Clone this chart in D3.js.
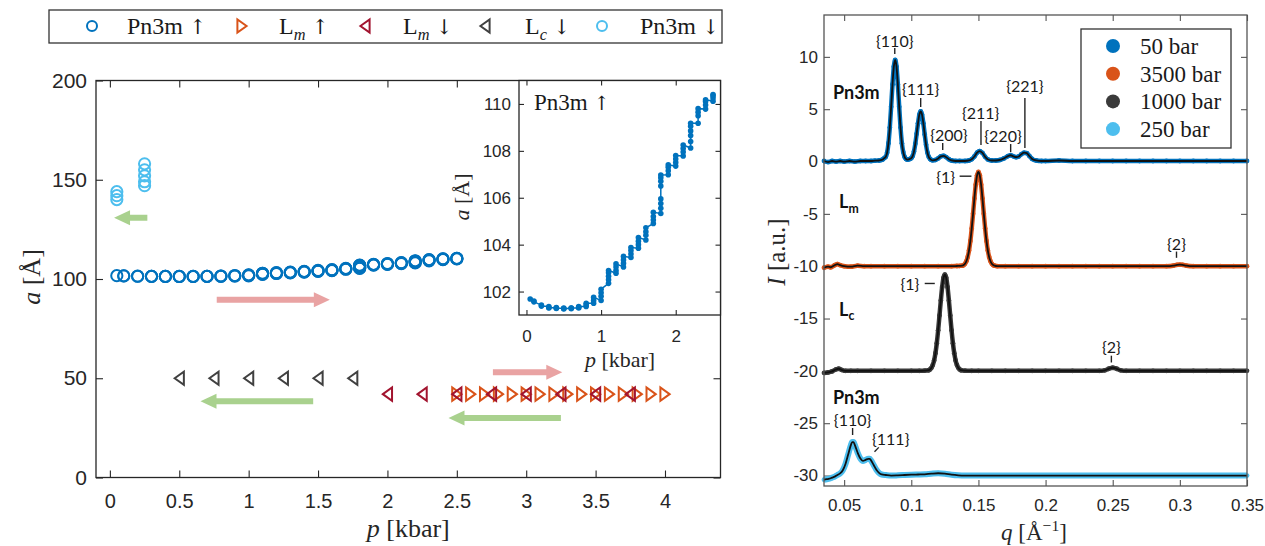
<!DOCTYPE html>
<html><head><meta charset="utf-8">
<script src="https://cdn.jsdelivr.net/npm/d3@7"></script>
<style>body{margin:0;background:#fff}svg{display:block}</style>
</head><body>
<svg id="fig" width="1265" height="546"></svg>
<script>
// ---------------- DATA (left panel) ----------------
const mainXTicks = [0,0.5,1,1.5,2,2.5,3,3.5,4];
const mainXTickLabels = ["0","0.5","1","1.5","2","2.5","3","3.5","4"];
const mainYTicks = [0,50,100,150,200];
const insetXTicks = [0,1,2];
const insetYTicks = [102,104,106,108,110];

// Pn3m ↑ : pressure steps and lattice parameters measured at each step (time order)
const pn3mUpP = [0.05,0.1,0.2,0.3,0.4,0.5,0.6,0.7,0.8,0.9,1.0,1.1,1.2,1.3,1.4,1.5,1.6,1.7,1.8,1.9,2.0,2.1,2.2,2.3,2.4,2.5];
const pn3mUpA = [
  [101.68],[101.6,101.56],[101.42,101.38],[101.36,101.32,101.3],[101.32,101.28,101.3],
  [101.28,101.3,101.26],[101.3,101.27,101.3],[101.3,101.33,101.36],[101.36,101.43,101.5],
  [101.5,101.62,101.75],[101.62,101.8,101.95,102.1],[102.35,102.5,102.65,102.8,102.9],
  [102.78,102.9,103.05,103.18],[103.05,103.2,103.35,103.5],[103.45,103.6,103.75,103.88],
  [103.85,104.0,104.15,104.3],[104.2,104.4,104.55,104.72],[104.9,105.05,105.2,105.38],
  [105.33,105.55,105.75,105.95,106.5,106.7,106.85,106.97],[106.98,107.15,107.3,107.4],
  [107.35,107.5,107.65,107.8],[107.78,107.95,108.1,108.25],
  [108.12,108.4,108.65,108.85,109.05,109.18],[109.18,109.5,109.65,109.8],
  [109.78,109.95,110.1,110.18],[110.12,110.25,110.35,110.4]
];
const pn3mDownP = [0.05,0.05,0.05,0.25,0.25,0.25,0.25,0.25];
const pn3mDownA = [144,142,140,158,155,152,149,147];
const lmUpP = [2.5,2.6,2.7,2.8,2.9,3.0,3.1,3.2,3.3,3.4,3.5,3.6,3.7,3.8,3.9,4.0];
const lmUpA = [42,42,42,42,42,42,42,42,42,42,42,42,42,42,42,42];
const lmDownP = [2.0,2.25,2.5,2.75,3.0,3.25,3.5,3.75];
const lmDownA = [42,42,42,42,42,42,42,42];
const lcDownP = [0.5,0.75,1.0,1.25,1.5,1.75];
const lcDownA = [50,50,50,50,50,50];
// direction arrows: [tail p, tip p, a]
const arrowsPink = [[0.77,1.585,89.6],[2.76,3.26,53]];
const arrowsGreen = [[0.27,0.03,130.8],[1.465,0.653,38.4],[3.25,2.44,30]];

// ---------------- DATA (right panel) ----------------
const qTicks = [0.05,0.1,0.15,0.2,0.25,0.3,0.35];
const qTickLabels = ["0.05","0.1","0.15","0.2","0.25","0.3","0.35"];
const iTicks = [-30,-25,-20,-15,-10,-5,0,5,10];
const iTickLabels = ["-30","-25","-20","-15","-10","-5","0","5","10"];
const seriesNames = ["50 bar","3500 bar","1000 bar","250 bar"];

const c50 = [[0.035,0.05],[0.038,-0.05],[0.041,0.05],[0.044,0.0],[0.047,0.05],[0.050,0.0],[0.054,0.05],[0.058,0.0],[0.062,0.05],[0.066,0.05],[0.070,0.05],[0.073,0.08],[0.076,0.1],[0.078,0.15],
[0.079,0.22],[0.080,0.34],[0.081,0.45],[0.082,0.85],[0.083,1.75],[0.084,3.24],[0.085,5.23],[0.086,7.37],[0.087,9.06],[0.088,9.7],[0.089,9.06],[0.090,7.37],[0.091,5.23],[0.092,3.24],[0.093,1.75],[0.094,0.9],[0.095,0.45],[0.096,0.25],[0.097,0.18],[0.098,0.2],[0.099,0.25],[0.100,0.32],[0.101,0.52],[0.102,0.95],[0.103,1.7],[0.104,2.65],[0.105,3.65],[0.106,4.48],[0.107,4.8],[0.108,4.48],[0.109,3.65],[0.110,2.59],[0.111,1.6],[0.112,0.86],[0.113,0.45],[0.114,0.25],[0.115,0.15],[0.116,0.12],[0.118,0.15],[0.120,0.3],[0.122,0.5],[0.124,0.55],[0.126,0.42],[0.128,0.22],[0.130,0.1],[0.133,0.05],[0.136,0.05],[0.140,0.05],[0.143,0.1],[0.145,0.22],[0.147,0.48],[0.149,0.85],[0.151,1.0],[0.153,0.82],[0.155,0.45],[0.157,0.2],[0.160,0.1],[0.163,0.1],[0.166,0.15],[0.169,0.3],[0.172,0.52],[0.174,0.6],[0.176,0.5],[0.178,0.42],[0.180,0.48],[0.182,0.7],[0.184,0.85],[0.186,0.8],[0.188,0.52],[0.190,0.25],[0.193,0.1],[0.197,0.05],[0.200,0.05],[0.21,0.1],[0.22,0.05],[0.23,0.05],[0.24,0.05],[0.25,0.05],[0.26,0.05],[0.27,0.05],[0.28,0.05],[0.29,0.05],[0.30,0.05],[0.31,0.05],[0.32,0.05],[0.33,0.05],[0.34,0.05],[0.35,0.05]];

const c3500 = [[0.035,-10.15],[0.038,-10.05],[0.040,-10.1],[0.043,-9.9],[0.045,-9.8],[0.047,-9.9],[0.050,-10.0],[0.055,-10.05],[0.060,-9.95],[0.065,-10.0],[0.070,-10.0],[0.080,-10.0],[0.090,-10.0],[0.100,-10.0],[0.110,-10.0],[0.120,-10.0],[0.130,-10.0],[0.134,-9.98],[0.136,-9.97],[0.138,-9.95],[0.139,-9.89],[0.140,-9.77],[0.141,-9.53],[0.142,-9.13],[0.143,-8.5],[0.144,-7.59],[0.145,-6.39],[0.146,-4.99],[0.147,-3.52],[0.148,-2.22],[0.149,-1.32],[0.150,-1.0],[0.151,-1.32],[0.152,-2.22],[0.153,-3.52],[0.154,-4.99],[0.155,-6.39],[0.156,-7.59],[0.157,-8.5],[0.158,-9.13],[0.159,-9.53],[0.160,-9.77],[0.161,-9.89],[0.162,-9.95],[0.164,-10.0],[0.17,-10.0],[0.18,-10.0],[0.19,-10.0],[0.20,-10.0],[0.21,-10.0],[0.22,-10.0],[0.23,-10.0],[0.24,-10.0],[0.25,-10.0],[0.26,-10.0],[0.27,-10.0],[0.28,-10.0],[0.29,-10.0],[0.295,-9.95],[0.298,-9.87],[0.300,-9.85],[0.302,-9.87],[0.305,-9.95],[0.31,-10.0],[0.32,-10.0],[0.33,-10.0],[0.34,-10.0],[0.35,-10.0]];

const c1000 = [[0.035,-20.2],[0.038,-20.15],[0.041,-20.05],[0.044,-19.85],[0.046,-19.8],[0.048,-19.9],[0.051,-20.0],[0.055,-20.0],[0.060,-20.0],[0.070,-20.0],[0.080,-20.0],[0.090,-20.0],[0.100,-20.0],[0.106,-20.0],[0.110,-19.98],[0.113,-19.94],[0.114,-19.86],[0.115,-19.71],[0.116,-19.44],[0.117,-19.0],[0.118,-18.31],[0.119,-17.35],[0.120,-16.13],[0.121,-14.71],[0.122,-13.27],[0.123,-11.99],[0.124,-11.11],[0.125,-10.8],[0.126,-11.11],[0.127,-11.99],[0.128,-13.27],[0.129,-14.71],[0.130,-16.13],[0.131,-17.35],[0.132,-18.31],[0.133,-19.0],[0.134,-19.44],[0.135,-19.71],[0.136,-19.86],[0.137,-19.94],[0.140,-19.98],[0.145,-20.0],[0.15,-20.0],[0.16,-20.0],[0.17,-20.0],[0.18,-20.0],[0.19,-20.0],[0.20,-20.0],[0.21,-20.0],[0.22,-20.0],[0.23,-20.0],[0.24,-20.0],[0.244,-19.95],[0.247,-19.8],[0.250,-19.7],[0.253,-19.8],[0.256,-19.95],[0.26,-20.0],[0.27,-20.0],[0.28,-20.0],[0.29,-20.0],[0.30,-20.0],[0.31,-20.0],[0.32,-20.0],[0.33,-20.0],[0.34,-20.0],[0.35,-20.0]];

const c250 = [[0.035,-30.4],[0.037,-30.35],[0.039,-30.3],[0.041,-30.2],[0.043,-30.1],[0.045,-29.95],[0.047,-29.8],[0.049,-29.5],[0.051,-28.9],[0.053,-28.0],[0.055,-27.1],[0.056,-26.8],[0.057,-26.8],[0.058,-27.1],[0.060,-27.8],[0.062,-28.35],[0.064,-28.6],[0.066,-28.5],[0.068,-28.4],[0.069,-28.4],[0.070,-28.55],[0.072,-29.0],[0.074,-29.45],[0.076,-29.75],[0.078,-29.9],[0.081,-29.95],[0.085,-30.0],[0.09,-29.98],[0.095,-29.95],[0.10,-29.92],[0.105,-29.9],[0.11,-29.88],[0.115,-29.82],[0.12,-29.78],[0.125,-29.82],[0.13,-29.92],[0.135,-29.98],[0.14,-30.0],[0.15,-30.0],[0.16,-30.0],[0.17,-30.0],[0.18,-30.0],[0.19,-30.0],[0.20,-30.0],[0.21,-30.0],[0.22,-30.0],[0.23,-30.0],[0.24,-30.0],[0.25,-30.0],[0.26,-30.0],[0.27,-30.0],[0.28,-30.0],[0.29,-30.0],[0.30,-30.0],[0.31,-30.0],[0.32,-30.0],[0.33,-30.0],[0.34,-30.0],[0.35,-30.0]];

// peak index labels [text, q, I] and their marker lines [q1, I1, q2, I2]
const peakLabels = [["{110}",0.0877,11.6],["{111}",0.107,6.93],["{200}",0.128,2.63],["{211}",0.1517,4.73],["{220}",0.1683,2.53],["{221}",0.1846,7.3],["{1}",0.1256,-1.45],["{2}",0.2975,-7.8],["{1}",0.099,-11.65],["{2}",0.249,-17.7],["{110}",0.0563,-24.6],["{111}",0.0847,-26.45]];
const peakLines = [[0.0877,10.84,0.0877,10.27],[0.107,6.07,0.107,5.21],[0.1234,1.77,0.1234,1.1],[0.1519,3.87,0.1519,1.58],[0.174,1.67,0.174,0.9],[0.1846,6.07,0.1846,1.29],[0.136,-1.4,0.1448,-1.4],[0.2975,-8.6,0.2975,-9.2],[0.110,-11.65,0.1175,-11.65],[0.249,-18.55,0.249,-19.2],[0.0563,-25.46,0.0563,-26.13],[0.0726,-27.73,0.0758,-27.31]];
const phaseLabels = [[["Pn3m"],0.0417,6.55],[["L","m"],0.0462,-3.87],[["L","c"],0.0462,-14.18],[["Pn3m"],0.0417,-22.56]];

// ---------------- STYLE ----------------
const C = {blue:"#0072BD", orange:"#D95319", red:"#A2142F", gray:"#404040", lblue:"#4DBEEE", pink:"#E9A3A3", green:"#A9D18E"};
const SANS = "'Liberation Sans', Arial, sans-serif";
const SERIF = "'Liberation Serif', 'Times New Roman', serif";
const CAL = "Lato, 'Open Sans', sans-serif";
const ARW = "'DejaVu Serif', 'DejaVu Sans', serif";

const svg = d3.select("#fig");

function rich(textSel, parts, size) {
  let shift = 0;
  parts.forEach(p => {
    const ts = textSel.append("tspan").text(p.t);
    let target = 0;
    if (p.sub) { target = size * 0.25; ts.attr("font-size", size * 0.68); }
    if (p.sup) { target = -size * 0.4; ts.attr("font-size", size * 0.68); }
    if (p.i) ts.attr("font-style", "italic");
    if (p.arrow) ts.style("font-family", ARW).attr("font-size", size * 0.85).attr("font-weight", "normal");
    if (target !== shift) { ts.attr("dy", target - shift); shift = target; }
  });
}
function styleAxis(g, col, size, fam) {
  g.select(".domain").remove();
  g.selectAll(".tick line").attr("stroke", col).attr("stroke-width", 1.1);
  g.selectAll(".tick text").attr("fill", "#262626").style("font-size", size + "px").style("font-family", fam);
}
const triLeft = "M-4.6,0L4.6,-6.6L4.6,6.6Z";
const triRight = "M4.6,0L-4.6,-6.6L-4.6,6.6Z";

// ================= LEFT MAIN PLOT =================
const mx = d3.scaleLinear().domain([-0.1, 4.4]).range([96, 720.5]);
const my = d3.scaleLinear().domain([0, 200]).range([477.5, 80.5]);
const L = svg.append("g");

const gx = L.append("g").attr("transform", `translate(0,${my(0)})`)
  .call(d3.axisBottom(mx).tickValues(mainXTicks).tickFormat((d,i)=>mainXTickLabels[i]).tickSizeInner(-7).tickSizeOuter(0).tickPadding(16));
styleAxis(gx, "#262626", 20, SANS);
const gxt = L.append("g").attr("transform", `translate(0,${my(200)})`)
  .call(d3.axisTop(mx).tickValues(mainXTicks).tickFormat("").tickSizeInner(-7).tickSizeOuter(0));
styleAxis(gxt, "#262626", 20, SANS);
const gy = L.append("g").attr("transform", `translate(${mx(-0.1)},0)`)
  .call(d3.axisLeft(my).tickValues(mainYTicks).tickFormat(d3.format("d")).tickSizeInner(-7).tickSizeOuter(0).tickPadding(9));
styleAxis(gy, "#262626", 21, SANS);
const gyr = L.append("g").attr("transform", `translate(${mx(4.4)},0)`)
  .call(d3.axisRight(my).tickValues(mainYTicks).tickFormat("").tickSizeInner(-7).tickSizeOuter(0));
styleAxis(gyr, "#262626", 21, SANS);
L.append("rect").attr("x", mx(-0.1)).attr("y", my(200)).attr("width", mx(4.4) - mx(-0.1)).attr("height", my(0) - my(200))
  .attr("fill", "none").attr("stroke", "#262626").attr("stroke-width", 1.3);

// arrows
function arrow(g, x1, x2, y, col) {
  const dir = x2 > x1 ? 1 : -1, hl = 16, hh = 7.5, bt = 3;
  const xb = x2 - dir * hl;
  g.append("path").attr("fill", col)
    .attr("d", `M${x1},${y-bt}L${xb},${y-bt}L${xb},${y-hh}L${x2},${y}L${xb},${y+hh}L${xb},${y+bt}L${x1},${y+bt}Z`);
}
arrowsPink.forEach(a => arrow(L, mx(a[0]), mx(a[1]), my(a[2]), C.pink));
arrowsGreen.forEach(a => arrow(L, mx(a[0]), mx(a[1]), my(a[2]), C.green));

// markers
const pn3mUpFlat = [];
pn3mUpP.forEach((p, i) => pn3mUpA[i].forEach(a => pn3mUpFlat.push([p, a])));
L.append("g").selectAll("circle").data(pn3mUpFlat).join("circle")
  .attr("cx", d => mx(d[0])).attr("cy", d => my(d[1])).attr("r", 5.6)
  .attr("fill", "none").attr("stroke", C.blue).attr("stroke-width", 2);
L.append("g").selectAll("circle").data(pn3mDownP.map((p,i)=>[p,pn3mDownA[i]])).join("circle")
  .attr("cx", d => mx(d[0])).attr("cy", d => my(d[1])).attr("r", 5.6)
  .attr("fill", "none").attr("stroke", C.lblue).attr("stroke-width", 2);
function tris(data, path, col) {
  L.append("g").selectAll("path").data(data).join("path")
    .attr("transform", d => `translate(${mx(d[0])},${my(d[1])})`).attr("d", path)
    .attr("fill", "none").attr("stroke", col).attr("stroke-width", 2).attr("stroke-linejoin", "miter");
}
tris(lcDownP.map((p,i)=>[p,lcDownA[i]]), triLeft, C.gray);
tris(lmUpP.map((p,i)=>[p,lmUpA[i]]), triRight, C.orange);
tris(lmDownP.map((p,i)=>[p,lmDownA[i]]), triLeft, C.red);

// axis labels
const xl = L.append("text").attr("x", (mx(-0.1)+mx(4.4))/2).attr("y", 537).attr("text-anchor", "middle")
  .style("font-family", SERIF).style("font-size", "26px").attr("fill", "#262626");
rich(xl, [{t:"p", i:true}, {t:" [kbar]"}], 26);
const yl = L.append("text").attr("transform", "translate(31,277) rotate(-90)").attr("text-anchor", "middle")
  .attr("dominant-baseline", "central").style("font-family", SERIF).style("font-size", "26px").attr("fill", "#262626");
rich(yl, [{t:"a", i:true}, {t:" [Å]"}], 26);

// ---- inset ----
const ix = d3.scaleLinear().domain([-0.1, 2.6]).range([519, 720.5]);
const iy = d3.scaleLinear().domain([101, 111]).range([315, 80.5]);
const I = svg.append("g");
I.append("rect").attr("x", ix(-0.1)).attr("y", iy(111)).attr("width", ix(2.6)-ix(-0.1)).attr("height", iy(101)-iy(111)).attr("fill", "#fff");
const ixa = I.append("g").attr("transform", `translate(0,${iy(101)})`)
  .call(d3.axisBottom(ix).tickValues(insetXTicks).tickFormat(d3.format("d")).tickSizeInner(-5).tickSizeOuter(0).tickPadding(15));
styleAxis(ixa, "#262626", 17, SANS);
const ixt = I.append("g").attr("transform", `translate(0,${iy(111)})`)
  .call(d3.axisTop(ix).tickValues(insetXTicks).tickFormat("").tickSizeInner(-5).tickSizeOuter(0));
styleAxis(ixt, "#262626", 17, SANS);
const iya = I.append("g").attr("transform", `translate(${ix(-0.1)},0)`)
  .call(d3.axisLeft(iy).tickValues(insetYTicks).tickFormat(d3.format("d")).tickSizeInner(-5).tickSizeOuter(0).tickPadding(8));
styleAxis(iya, "#262626", 17, SANS);
const iyr = I.append("g").attr("transform", `translate(${ix(2.6)},0)`)
  .call(d3.axisRight(iy).tickValues(insetYTicks).tickFormat("").tickSizeInner(-5).tickSizeOuter(0));
styleAxis(iyr, "#262626", 17, SANS);
I.append("path").datum(pn3mUpFlat).attr("fill", "none").attr("stroke", C.blue).attr("stroke-width", 1.5)
  .attr("d", d3.line().x(d => ix(d[0])).y(d => iy(d[1])));
I.append("g").selectAll("circle").data(pn3mUpFlat).join("circle")
  .attr("cx", d => ix(d[0])).attr("cy", d => iy(d[1])).attr("r", 2.8).attr("fill", C.blue);
I.append("rect").attr("x", ix(-0.1)).attr("y", iy(111)).attr("width", ix(2.6)-ix(-0.1)).attr("height", iy(101)-iy(111))
  .attr("fill", "none").attr("stroke", "#262626").attr("stroke-width", 1.3);
const itl = I.append("text").attr("x", 534).attr("y", 110).style("font-family", SERIF).style("font-size", "23px").attr("fill", "#1a1a1a");
rich(itl, [{t:"Pn3m "}, {t:"↑", arrow:true}], 23);
const ixl = I.append("text").attr("x", 620).attr("y", 367).attr("text-anchor", "middle").style("font-family", SERIF).style("font-size", "22px").attr("fill", "#262626");
rich(ixl, [{t:"p", i:true}, {t:" [kbar]"}], 22);
const iyl = I.append("text").attr("transform", "translate(461,197) rotate(-90)").attr("text-anchor", "middle")
  .attr("dominant-baseline", "central").style("font-family", SERIF).style("font-size", "22px").attr("fill", "#262626");
rich(iyl, [{t:"a", i:true}, {t:" [Å]"}], 22);

// ---- top legend ----
const LG = svg.append("g");
LG.append("rect").attr("x", 49).attr("y", 10).attr("width", 673).attr("height", 33).attr("fill", "#fff").attr("stroke", "#333").attr("stroke-width", 1.3);
const legItems = [
  {sym:"c", col:C.blue, x:92, tx:127, parts:[{t:"Pn3m "},{t:"↑",arrow:true}]},
  {sym:"r", col:C.orange, x:242, tx:279, parts:[{t:"L"},{t:"m",sub:true,i:true},{t:" "},{t:"↑",arrow:true}]},
  {sym:"l", col:C.red, x:365, tx:403, parts:[{t:"L"},{t:"m",sub:true,i:true},{t:" "},{t:"↓",arrow:true}]},
  {sym:"l", col:C.gray, x:485, tx:525, parts:[{t:"L"},{t:"c",sub:true,i:true},{t:" "},{t:"↓",arrow:true}]},
  {sym:"c", col:C.lblue, x:602, tx:640, parts:[{t:"Pn3m "},{t:"↓",arrow:true}]}
];
legItems.forEach(it => {
  if (it.sym === "c") LG.append("circle").attr("cx", it.x).attr("cy", 26).attr("r", 5).attr("fill", "none").attr("stroke", it.col).attr("stroke-width", 2);
  else LG.append("path").attr("transform", `translate(${it.x},26)`).attr("d", it.sym === "r" ? triRight : triLeft).attr("fill", "none").attr("stroke", it.col).attr("stroke-width", 2);
  const t = LG.append("text").attr("x", it.tx).attr("y", 34).style("font-family", SERIF).style("font-size", "24px").attr("fill", "#1a1a1a");
  rich(t, it.parts, 24);
});

// ================= RIGHT PANEL =================
const qx = d3.scaleLinear().domain([0.035, 0.35]).range([824, 1247]);
const qy = d3.scaleLinear().domain([-31, 14]).range([486, 15]);
const R = svg.append("g");
const rxa = R.append("g").attr("transform", `translate(0,${qy(-31)})`)
  .call(d3.axisBottom(qx).tickValues(qTicks).tickFormat((d,i)=>qTickLabels[i]).tickSizeInner(-6).tickSizeOuter(0).tickPadding(13));
styleAxis(rxa, "#555", 17, SANS);
const rxt = R.append("g").attr("transform", `translate(0,${qy(14)})`)
  .call(d3.axisTop(qx).tickValues(qTicks).tickFormat("").tickSizeInner(-6).tickSizeOuter(0));
styleAxis(rxt, "#555", 17, SANS);
const rya = R.append("g").attr("transform", `translate(${qx(0.035)},0)`)
  .call(d3.axisLeft(qy).tickValues(iTicks).tickFormat((d,i)=>iTickLabels[i]).tickSizeInner(-6).tickSizeOuter(0).tickPadding(6));
styleAxis(rya, "#555", 17, SANS);
const ryr = R.append("g").attr("transform", `translate(${qx(0.35)},0)`)
  .call(d3.axisRight(qy).tickValues(iTicks).tickFormat("").tickSizeInner(-6).tickSizeOuter(0));
styleAxis(ryr, "#555", 17, SANS);

const series = [
  {data:c50, col:C.blue, w:4.5},
  {data:c3500, col:C.orange, w:4.5},
  {data:c1000, col:"#3a3a3a", w:4.5},
  {data:c250, col:C.lblue, w:6}
];
const lineGen = d3.line().x(d => qx(d[0])).y(d => qy(d[1])).curve(d3.curveMonotoneX);
series.forEach(s => {
  R.append("path").datum(s.data).attr("fill", "none").attr("stroke", s.col).attr("stroke-width", s.w).attr("d", lineGen);
  R.append("g").selectAll("circle").data(s.data).join("circle")
    .attr("cx", d => qx(d[0])).attr("cy", d => qy(d[1])).attr("r", 2.4).attr("fill", s.col);
});
series.forEach(s => {
  R.append("path").datum(s.data).attr("fill", "none").attr("stroke", "#111").attr("stroke-width", 1.8).attr("d", lineGen);
});
R.append("rect").attr("x", qx(0.035)).attr("y", qy(14)).attr("width", qx(0.35)-qx(0.035)).attr("height", qy(-31)-qy(14))
  .attr("fill", "none").attr("stroke", "#555").attr("stroke-width", 1.3);

// annotations
R.append("g").selectAll("line").data(peakLines).join("line")
  .attr("x1", d => qx(d[0])).attr("y1", d => qy(d[1])).attr("x2", d => qx(d[2])).attr("y2", d => qy(d[3]))
  .attr("stroke", "#222").attr("stroke-width", 1.4);
R.append("g").selectAll("text").data(peakLabels).join("text")
  .attr("x", d => qx(d[1])).attr("y", d => qy(d[2])).attr("text-anchor", "middle").attr("dominant-baseline", "central")
  .style("font-family", CAL).style("font-size", "16px").attr("fill", "#1a1a1a").text(d => d[0]);
phaseLabels.forEach(pl => {
  const t = R.append("text").attr("x", qx(pl[1])).attr("y", qy(pl[2]) + 6).style("font-family", CAL)
    .style("font-size", "18px").style("font-weight", "bold").attr("fill", "#111");
  const parts = pl[0].length === 1 ? [{t:pl[0][0]}] : [{t:pl[0][0]}, {t:pl[0][1], sub:true}];
  rich(t, parts, 18);
});

// legend (right)
const RL = R.append("g");
RL.append("rect").attr("x", 1081).attr("y", 29).attr("width", 150).attr("height", 119).attr("fill", "#fff").attr("stroke", "#333").attr("stroke-width", 1.3);
seriesNames.forEach((n, i) => {
  const y = 46 + i * 27.7;
  RL.append("circle").attr("cx", 1113).attr("cy", y).attr("r", 7).attr("fill", series[i].col);
  RL.append("text").attr("x", 1140).attr("y", y + 8).style("font-family", SERIF).style("font-size", "23px").attr("fill", "#1a1a1a").text(n);
});

// axis labels (right)
const qxl = R.append("text").attr("x", 1034).attr("y", 540).attr("text-anchor", "middle").style("font-family", SERIF).style("font-size", "23px").attr("fill", "#262626");
rich(qxl, [{t:"q", i:true}, {t:" [Å"}, {t:"−1", sup:true}, {t:"]"}], 23);
const qyl = R.append("text").attr("transform", "translate(776,252) rotate(-90)").attr("text-anchor", "middle")
  .attr("dominant-baseline", "central").style("font-family", SERIF).style("font-size", "25px").attr("fill", "#262626");
rich(qyl, [{t:"I", i:true}, {t:" [a.u.]"}], 25);
</script>
</body></html>
